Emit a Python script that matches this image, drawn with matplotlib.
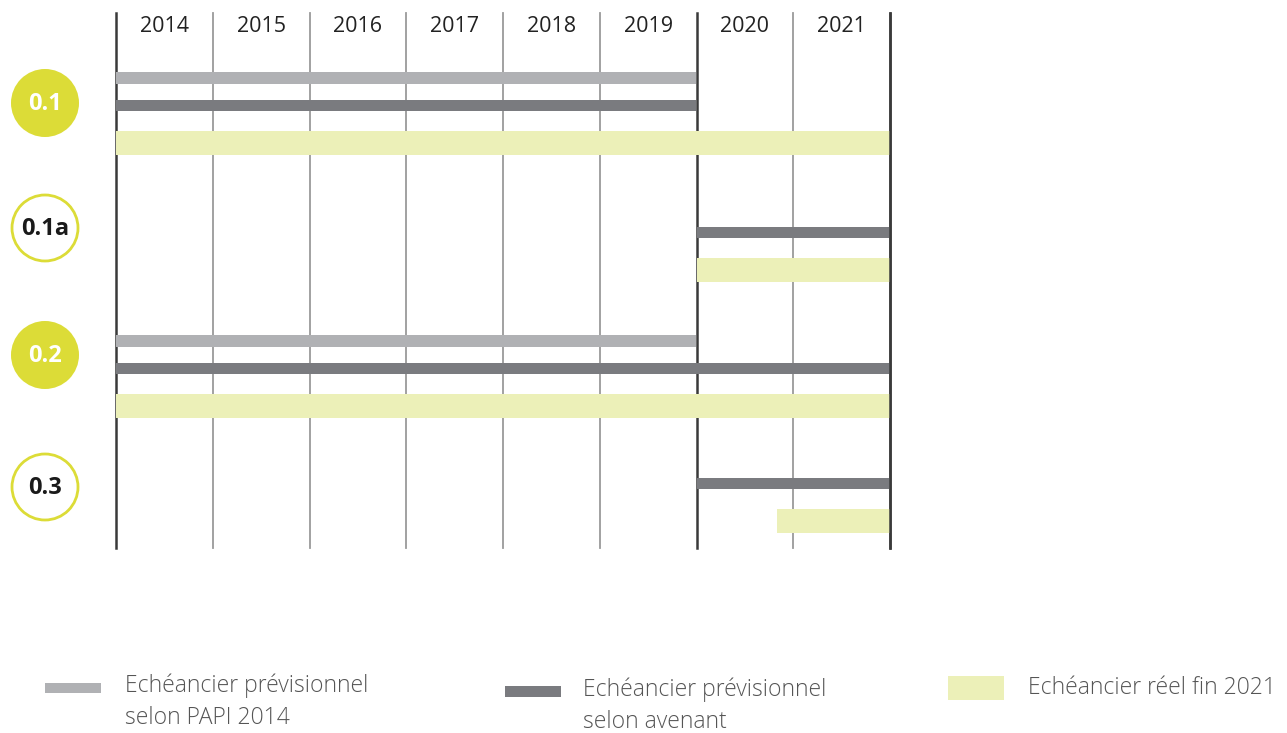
import matplotlib
matplotlib.use("Agg")
import matplotlib.pyplot as plt
from matplotlib.patches import Circle, Rectangle

# Actions and their schedules (years, end exclusive)
actions = ["0.1", "0.1a", "0.2", "0.3"]
action_highlight = [True, False, True, False]
years = [2014, 2015, 2016, 2017, 2018, 2019, 2020, 2021]

papi_start = [2014, None, 2014, None]
papi_end = [2020, None, 2020, None]
avenant_start = [2014, 2020, 2014, 2020]
avenant_end = [2020, 2022, 2022, 2022]
reel_start = [2014, 2020, 2014, 2020.83]
reel_end = [2022, 2022, 2022, 2022]

legend_labels = [
    "Echéancier prévisionnel\nselon PAPI 2014",
    "Echéancier prévisionnel\nselon avenant",
    "Echéancier réel fin 2021",
]

# colours
C_PAPI = "#b0b1b4"
C_AVENANT = "#7a7b7f"
C_REEL = "#ecf0b8"
C_BADGE = "#dcdc37"
FONT = "Open Sans"

W, H = 1287, 733
fig = plt.figure(figsize=(W / 100, H / 100), dpi=100)

# background axes in pixel coordinates for badges and legend
bg = fig.add_axes([0, 0, 1, 1])
bg.set_xlim(0, W)
bg.set_ylim(H, 0)
bg.axis("off")

# gantt axes: x in years, y in pixel rows
x0, x1, y0, y1 = 116, 890, 13, 548
ax = fig.add_axes([x0 / W, 1 - y1 / H, (x1 - x0) / W, (y1 - y0) / H])
ax.set_xlim(2014, 2022)
ax.set_ylim(y1, y0)
ax.axis("off")

# vertical year separators
for yr in range(2014, 2023):
    strong = yr in (2014, 2020, 2022)
    ax.axvline(yr, color="#3a3a3a" if strong else "#9a9a9a",
               lw=1.8 if strong else 1.3, zorder=1, clip_on=False)

for yr in years:
    ax.text(yr + 0.5, 26, str(yr), ha="center", va="center",
            fontsize=15.5, family=FONT, color="#222222")

# rows: top of each group, then offsets for the three bars
group_top = [78, 205, 341, 456]
badge_y = [103, 228, 355, 487]

def draw(starts, ends, offset, height, color):
    for s, e, g in zip(starts, ends, group_top):
        if s is None:
            continue
        ax.barh(g + offset, e - s, left=s, height=height, color=color,
                edgecolor="none", zorder=2)

draw(papi_start, papi_end, 0, 12, C_PAPI)
draw(avenant_start, avenant_end, 27.5, 11, C_AVENANT)
draw(reel_start, reel_end, 64.5, 24, C_REEL)

# the closing separator sits on top of the bars
ax.axvline(2022, color="#3a3a3a", lw=1.8, zorder=3, clip_on=False)

# action badges
for name, hl, cy in zip(actions, action_highlight, badge_y):
    if hl:
        bg.add_patch(Circle((45, cy), 34, facecolor=C_BADGE, edgecolor="none"))
        tc = "white"
    else:
        bg.add_patch(Circle((45, cy), 33, facecolor="white",
                            edgecolor=C_BADGE, lw=2))
        tc = "#1a1a1a"
    bg.text(45, cy + 1, name, ha="center", va="center", fontsize=17,
            fontweight="bold", family=FONT, color=tc)

# legend
legend_items = [
    (45, 683, 10, C_PAPI, 125, 686),
    (505, 686, 11, C_AVENANT, 583, 690),
    (948, 676, 24, C_REEL, 1028, 688),
]
for (sx, sy, sh, col, tx, ty), label in zip(legend_items, legend_labels):
    bg.add_patch(Rectangle((sx, sy), 56, sh, facecolor=col, edgecolor="none"))
    for k, line in enumerate(label.split("\n")):
        bg.text(tx, ty + 32 * k, line, ha="left", va="center", fontsize=16.5,
                family=FONT, fontweight="light", color="#555555")

fig.savefig("out.png", dpi=100)
